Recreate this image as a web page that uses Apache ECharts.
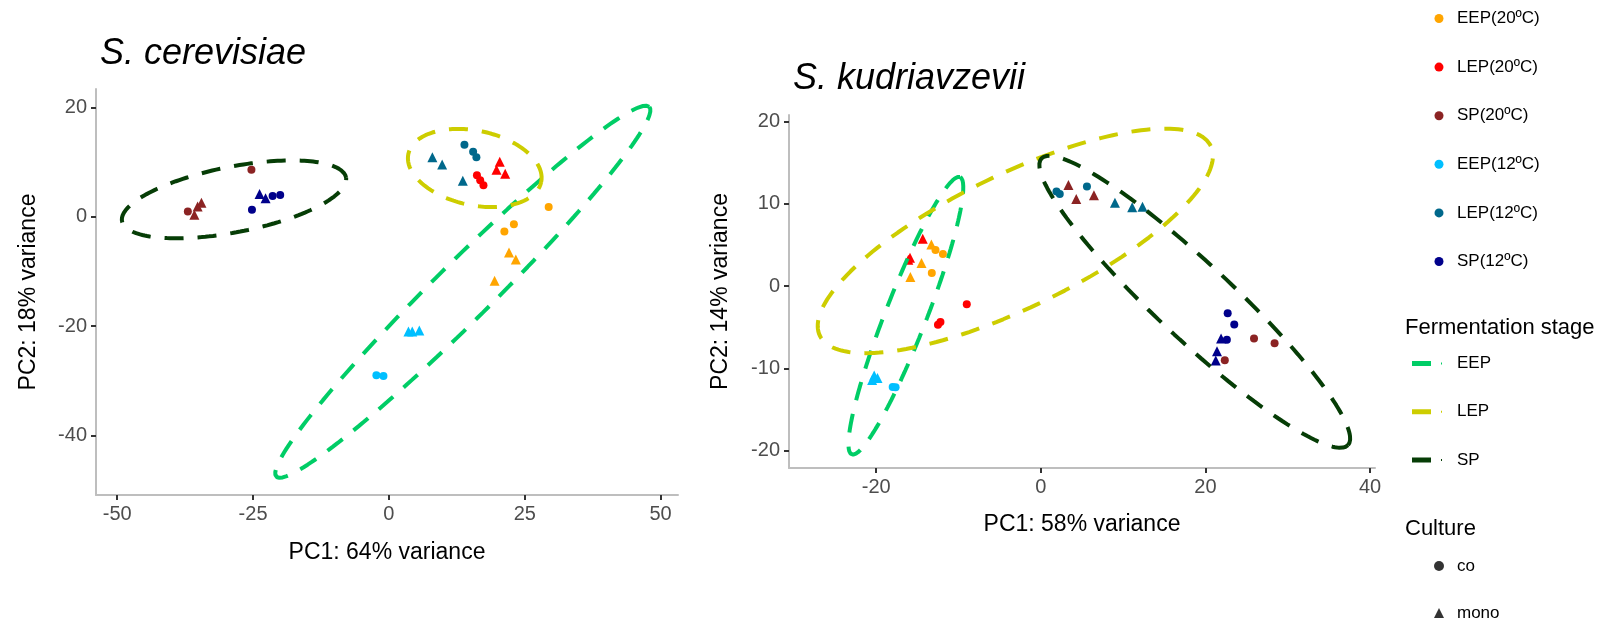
<!DOCTYPE html>
<html>
<head>
<meta charset="utf-8">
<title>PCA – S. cerevisiae / S. kudriavzevii</title>
<script src="https://cdn.jsdelivr.net/npm/echarts@6/dist/echarts.min.js"></script>
<style>
  html, body { margin: 0; padding: 0; background: #fff; }
  #chart { width: 1620px; height: 624px; }
</style>
</head>
<body>
<div id="chart"></div>
<script>
// ---- PCA scores: [PC1, PC2, culture] ----
// S. cerevisiae
const scEEP20 = [[29.4, 1.8, 'co'], [23.0, -1.35, 'co'], [21.25, -2.7, 'co'], [22.1, -6.5, 'mono'], [23.35, -7.8, 'mono'], [19.45, -11.7, 'mono']];
const scLEP20 = [[16.2, 7.6, 'co'], [16.8, 6.7, 'co'], [17.4, 5.8, 'co'], [20.4, 10.1, 'mono'], [19.8, 8.6, 'mono'], [21.4, 7.9, 'mono']];
const scSP20  = [[-37.0, 1.0, 'co'], [-25.3, 8.6, 'co'], [-35.8, 0.4, 'mono'], [-35.2, 1.9, 'mono'], [-34.5, 2.6, 'mono']];
const scEEP12 = [[-2.3, -29.0, 'co'], [-1.0, -29.1, 'co'], [3.6, -21.0, 'mono'], [4.3, -21.0, 'mono'], [5.6, -20.8, 'mono']];
const scLEP12 = [[13.9, 13.2, 'co'], [15.5, 11.9, 'co'], [16.1, 10.9, 'co'], [8.0, 10.9, 'mono'], [9.8, 9.6, 'mono'], [13.6, 6.6, 'mono']];
const scSP12  = [[-25.2, 1.3, 'co'], [-21.4, 3.8, 'co'], [-20.0, 4.0, 'co'], [-23.8, 4.2, 'mono'], [-22.7, 3.4, 'mono']];

// S. kudriavzevii
const skEEP20 = [[-12.8, 4.4, 'co'], [-11.9, 3.9, 'co'], [-13.25, 1.6, 'co'], [-13.3, 5.05, 'mono'], [-14.5, 2.8, 'mono'], [-15.85, 1.1, 'mono']];
const skLEP20 = [[-9.0, -2.2, 'co'], [-12.2, -4.35, 'co'], [-12.5, -4.7, 'co'], [-14.35, 5.75, 'mono'], [-15.9, 3.45, 'mono'], [-16.1, 3.2, 'mono']];
const skSP20  = [[25.9, -6.35, 'co'], [28.4, -6.95, 'co'], [22.35, -9.0, 'co'], [3.35, 12.3, 'mono'], [4.3, 10.6, 'mono'], [6.45, 11.05, 'mono']];
const skEEP12 = [[-18.0, -12.25, 'co'], [-17.65, -12.3, 'co'], [-20.25, -10.85, 'mono'], [-19.85, -11.15, 'mono'], [-20.5, -11.4, 'mono']];
const skLEP12 = [[1.9, 11.5, 'co'], [2.3, 11.2, 'co'], [5.6, 12.1, 'co'], [9.0, 10.15, 'mono'], [11.1, 9.6, 'mono'], [12.35, 9.65, 'mono']];
const skSP12  = [[22.7, -3.3, 'co'], [23.5, -4.65, 'co'], [22.6, -6.5, 'co'], [21.9, -6.35, 'mono'], [21.4, -7.9, 'mono'], [21.25, -9.05, 'mono']];

// Group names (colour legend) and stage / culture names
const groupNames = ['EEP(20ºC)', 'LEP(20ºC)', 'SP(20ºC)', 'EEP(12ºC)', 'LEP(12ºC)', 'SP(12ºC)'];
const stageNames = ['EEP', 'LEP', 'SP'];
const cultureNames = ['co', 'mono'];

// 95% confidence ellipses per fermentation stage: [centre PC1, centre PC2, semi-axis a, semi-axis b, angle (deg)]
const scEllipseEEP = [13.6, -13.7, 48.2, 5.3, 44.6];
const scEllipseLEP = [15.8, 8.95, 12.49, 6.82, -11.85];
const scEllipseSP  = [-28.5, 3.2, 21.0, 6.0, 11.0];
const skEllipseEEP = [-16.4, -3.6, 18.1, 2.5, 68.7];
const skEllipseLEP = [-3.1, 5.5, 26.4, 8.1, 25.9];
const skEllipseSP  = [18.7, -1.9, 25.5, 4.6, -43.1];

// Axis tick values
const scTicksX = [-50, -25, 0, 25, 50];
const scTicksY = [-40, -20, 0, 20];
const skTicksX = [-20, 0, 20, 40];
const skTicksY = [-20, -10, 0, 10, 20];

// ---- styling ----
const FONT = '"Liberation Sans", Arial, sans-serif';
const groupColors = ['#FFA500', '#FF0000', '#8B2323', '#00BFFF', '#00688B', '#00008B'];
const stageColors = ['#00CD66', '#CDCD00', '#063D06'];

const panels = [
  { groups: [scEEP20, scLEP20, scSP20, scEEP12, scLEP12, scSP12],
    ellipses: [scEllipseEEP, scEllipseLEP, scEllipseSP] },
  { groups: [skEEP20, skLEP20, skSP20, skEEP12, skLEP12, skSP12],
    ellipses: [skEllipseEEP, skEllipseLEP, skEllipseSP] }
];

// outline of an ellipse in data coordinates
function ellipseOutline(e) {
  const [cx, cy, a, b, deg] = e;
  const th = deg * Math.PI / 180;
  const pts = [];
  const n = 180;
  for (let i = 0; i <= n; i++) {
    const t = 2 * Math.PI * i / n;
    const u = a * Math.cos(t), v = b * Math.sin(t);
    pts.push([cx + u * Math.cos(th) - v * Math.sin(th), cy + u * Math.sin(th) + v * Math.cos(th)]);
  }
  return pts;
}

function valueAxis(gridIndex, min, max, ticks, name, nameGap) {
  return {
    type: 'value', gridIndex, min, max,
    name, nameLocation: 'middle', nameGap,
    nameTextStyle: { fontFamily: FONT, fontSize: 23, color: '#000' },
    axisLine: { show: true, onZero: false, lineStyle: { color: '#BEBEBE', width: 2 } },
    axisTick: { show: true, length: 5, customValues: ticks, lineStyle: { color: '#333', width: 2 } },
    axisLabel: { customValues: ticks, fontFamily: FONT, fontSize: 20, color: '#4D4D4D', margin: 9 },
    splitLine: { show: false }
  };
}

const series = [];
panels.forEach((p, pi) => {
  p.groups.forEach((g, gi) => {
    series.push({
      type: 'scatter', name: groupNames[gi],
      xAxisIndex: pi, yAxisIndex: pi,
      data: g,
      symbol: v => (v[2] === 'co' ? 'circle' : 'triangle'),
      symbolSize: v => (v[2] === 'co' ? 8 : 10),
      itemStyle: { color: groupColors[gi], opacity: 1 },
      z: 2, silent: true
    });
  });
  p.ellipses.forEach((e, ei) => {
    series.push({
      type: 'line', name: stageNames[ei],
      xAxisIndex: pi, yAxisIndex: pi,
      data: ellipseOutline(e),
      showSymbol: false, symbol: 'none', smooth: false,
      itemStyle: { color: stageColors[ei] },
      lineStyle: { color: stageColors[ei], width: 4, type: [19, 14] },
      z: 3, silent: true
    });
  });
});
// culture shape keys
series.push({ type: 'scatter', name: 'co', data: [], symbol: 'circle', itemStyle: { color: '#000' } });
series.push({ type: 'scatter', name: 'mono', data: [], symbol: 'triangle', itemStyle: { color: '#000' } });

const legendText = { fontFamily: FONT, fontSize: 17, color: '#000', lineHeight: 20 };

const option = {
  animation: false,
  backgroundColor: '#fff',
  title: [
    { text: 'S. cerevisiae', left: 100, top: 36, padding: 0,
      textStyle: { fontFamily: FONT, fontStyle: 'italic', fontWeight: 'normal', fontSize: 36, color: '#000' } },
    { text: 'S. kudriavzevii', left: 793, top: 61, padding: 0,
      textStyle: { fontFamily: FONT, fontStyle: 'italic', fontWeight: 'normal', fontSize: 36, color: '#000' } },
    { text: 'Fermentation stage', left: 1405, top: 317, padding: 0,
      textStyle: { fontFamily: FONT, fontWeight: 'normal', fontSize: 22, color: '#000' } },
    { text: 'Culture', left: 1405, top: 518, padding: 0,
      textStyle: { fontFamily: FONT, fontWeight: 'normal', fontSize: 22, color: '#000' } }
  ],
  grid: [
    { left: 96, top: 89, width: 582, height: 406 },
    { left: 789, top: 115, width: 586, height: 353 }
  ],
  xAxis: [
    valueAxis(0, -53.9, 53.2, scTicksX, 'PC1: 64% variance', 46),
    valueAxis(1, -30.6, 40.6, skTicksX, 'PC1: 58% variance', 45)
  ],
  yAxis: [
    valueAxis(0, -50.9, 23.4, scTicksY, 'PC2: 18% variance', 56),
    valueAxis(1, -22.1, 20.8, skTicksY, 'PC2: 14% variance', 57)
  ],
  legend: [
    { orient: 'vertical', left: 1434.5, top: 8.5, padding: 0, itemGap: 28.6,
      itemWidth: 9, itemHeight: 9, selectedMode: false,
      data: groupNames.map(n => ({ name: n, icon: 'circle' })),
      textStyle: Object.assign({ padding: [0, 0, 0, 8.5] }, legendText) },
    { orient: 'vertical', left: 1412, top: 353.5, padding: 0, itemGap: 28.2,
      itemWidth: 30, itemHeight: 5, selectedMode: false,
      data: stageNames.map(n => ({ name: n, icon: 'path://M0,0H19V5H0Z M29,1.5H30V3.5H29Z' })),
      textStyle: Object.assign({ padding: [0, 0, 0, 10] }, legendText) },
    { orient: 'vertical', left: 1434, top: 556, padding: 0, itemGap: 27,
      itemWidth: 10, itemHeight: 10, selectedMode: false,
      data: [{ name: 'co', icon: 'circle' }, { name: 'mono', icon: 'triangle' }],
      textStyle: Object.assign({ padding: [0, 0, 0, 8] }, legendText) }
  ],
  series
};

const chart = echarts.init(document.getElementById('chart'), null, { renderer: 'canvas' });
chart.setOption(option);
</script>
</body>
</html>
